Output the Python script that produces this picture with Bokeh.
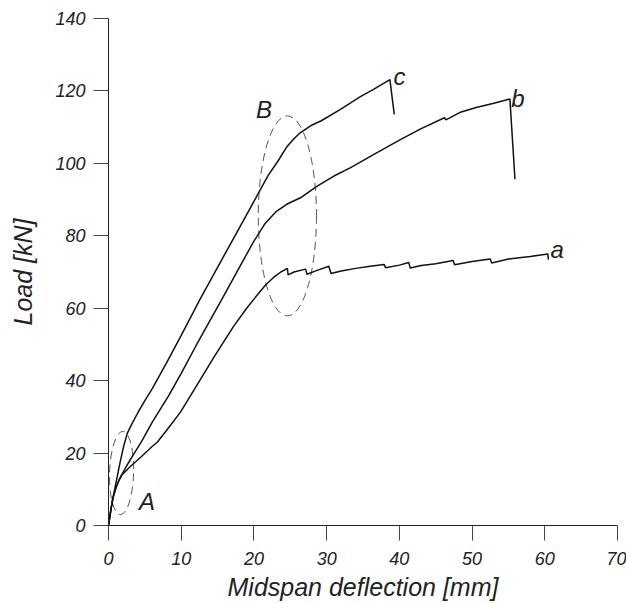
from bokeh.plotting import figure
from bokeh.models import Range1d, FixedTicker, ColumnDataSource
from bokeh.core.properties import value
from bokeh.embed import file_html
from bokeh.resources import INLINE

# ---- data ----
a_x = [0, 0.3, 0.6, 1.0, 1.4, 1.8, 3.0, 4.5, 6.0, 6.7, 8.0, 9.9, 12.0, 14.5, 17.2, 19.0,
       20.2, 21.6, 22.7, 23.7, 24.6, 24.7, 25.5, 27.1, 27.3, 28.5, 30.3, 30.6, 32.0, 34.0,
       36.0, 37.9, 38.1, 40.0, 41.3, 41.5, 43.0, 45.0, 47.4, 47.6, 50.0, 52.5, 52.7, 55.0,
       58.0, 60.4, 60.5]
a_y = [0, 4.0, 7.5, 10.3, 12.3, 13.9, 16.3, 19.0, 21.8, 23.0, 26.3, 31.3, 38.2, 46.5, 55.0, 60.0,
       63.0, 66.4, 68.5, 70.0, 71.0, 69.2, 70.0, 70.8, 69.4, 70.3, 71.6, 69.6, 70.3, 71.0,
       71.6, 72.1, 71.2, 71.9, 72.6, 71.1, 71.8, 72.3, 73.2, 72.0, 72.9, 73.6, 72.5, 73.6,
       74.3, 75.0, 73.4]

b_x = [0, 0.3, 0.6, 1.0, 1.4, 1.8, 2.5, 3.4, 4.5, 6.0, 8.26, 10.0, 12.0, 15.6, 18.0, 20.0,
       21.5, 23.0, 24.5, 26.4, 28.7, 31.0, 33.3, 36.5, 40.2, 43.0, 46.2, 46.4, 48.5, 50.7,
       53.0, 55.2, 55.9]
b_y = [0, 4.0, 7.5, 10.3, 12.3, 13.9, 16.5, 19.5, 23.0, 28.5, 35.8, 42.0, 49.5, 62.5, 71.3, 78.5,
       83.3, 86.6, 88.7, 90.5, 93.7, 96.5, 98.8, 102.5, 106.6, 109.6, 112.6, 112.0, 114.2, 115.5,
       116.6, 117.8, 95.6]

c_x = [0, 0.3, 0.7, 1.2, 1.6, 2.1, 2.6, 3.2, 4.0, 5.0, 6.0, 8.0, 10.0, 12.6, 15.0, 18.0,
       20.9, 22.0, 23.2, 24.5, 25.5, 26.4, 28.0, 29.2, 31.9, 34.7, 36.5, 38.7, 39.3]
c_y = [0, 4.0, 8.5, 13.5, 17.5, 22.0, 25.5, 28.0, 31.0, 34.5, 37.7, 45.0, 52.5, 62.5, 71.3, 82.2,
       92.8, 96.8, 100.3, 104.5, 106.8, 108.5, 110.6, 111.7, 114.9, 118.5, 120.5, 123.1, 113.5]

x_ticks = [0, 10, 20, 30, 40, 50, 60, 70]
y_ticks = [0, 20, 40, 60, 80, 100, 120, 140]

curve_names = ["A", "B", "c", "b", "a"]
name_x = [4.2, 20.3, 39.2, 55.4, 60.8]
name_y = [6.6, 114.9, 124.0, 117.9, 76.3]

# dashed regions A and B: centre x, centre y, width, height
region_x = [1.8, 24.6]
region_y = [14.5, 85.5]
region_w = [3.3, 8.0]
region_h = [23.0, 55.2]
region_angle = [-0.03, 0.0]

FONT = "Liberation Sans"

p = figure(width=626, height=603, output_backend="svg", toolbar_location=None,
           x_range=Range1d(0, 70), y_range=Range1d(0, 140),
           min_border_left=108, min_border_right=9, min_border_top=18, min_border_bottom=76)
p.outline_line_color = None
p.xgrid.visible = False
p.ygrid.visible = False
p.background_fill_color = "white"
p.border_fill_color = "white"

for ax, ticks in ((p.xaxis[0], x_ticks), (p.yaxis[0], y_ticks)):
    ax.ticker = FixedTicker(ticks=ticks)
    ax.minor_tick_line_color = None
    ax.major_tick_out = 15
    ax.major_tick_in = 0
    ax.major_tick_line_color = "#444444"
    ax.axis_line_color = "#222222"
    ax.major_label_text_font = FONT
    ax.major_label_text_font_style = "italic"
    ax.major_label_text_font_size = "18px"
    ax.major_label_text_color = "#222222"
    ax.axis_label_text_font = FONT
    ax.axis_label_text_font_style = "italic"
    ax.axis_label_text_font_size = "25px"
    ax.axis_label_text_color = "#222222"

p.xaxis[0].axis_label = "Midspan deflection [mm]"
p.yaxis[0].axis_label = "Load [kN]"
p.xaxis[0].major_label_standoff = 11
p.yaxis[0].major_label_standoff = 8
p.xaxis[0].axis_label_standoff = 5
p.yaxis[0].axis_label_standoff = 15

p.ellipse(x=region_x, y=region_y, width=region_w, height=region_h, angle=region_angle,
          fill_color=None, line_color="#555555", line_width=1, line_dash="8 5")

for xs, ys in ((a_x, a_y), (b_x, b_y), (c_x, c_y)):
    p.line(xs, ys, line_color="#111111", line_width=1.5)

src = ColumnDataSource(dict(x=name_x, y=name_y, t=curve_names))
p.text(x="x", y="y", text="t", source=src, text_font=value(FONT),
       text_font_style="italic", text_font_size="24px", text_color="#222222",
       text_align="left", text_baseline="alphabetic")

open("out.html", "w").write(file_html(p, INLINE))
